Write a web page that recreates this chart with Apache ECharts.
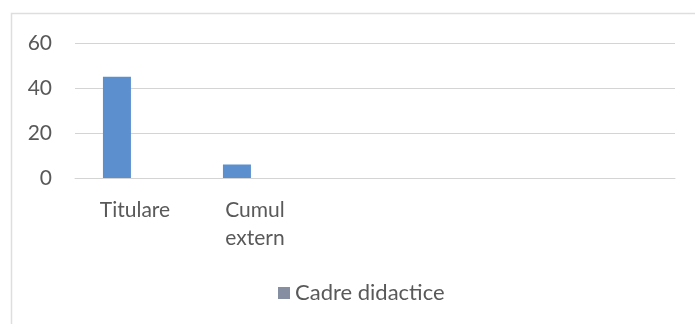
<!DOCTYPE html>
<html>
<head>
<meta charset="utf-8">
<script src="https://cdn.jsdelivr.net/npm/echarts@6/dist/echarts.min.js"></script>
<style>
  html, body { margin: 0; padding: 0; background: #ffffff; }
  #chart { width: 695px; height: 324px; }
</style>
</head>
<body>
<div id="chart"></div>
<script>
// Staff categories and head counts
const categories = ['Titulare', 'Cumul extern', '', '', ''];
const cadreDidactice = [45, 6, null, null, null];
const yTicks = { min: 0, max: 60, interval: 20 };
const seriesName = 'Cadre didactice';

const chart = echarts.init(document.getElementById('chart'), null, { renderer: 'canvas' });

const font = 'Lato, "Open Sans", sans-serif';
const textColor = '#595959';

chart.setOption({
  backgroundColor: '#ffffff',
  animation: false,
  graphic: [{
    type: 'rect',
    shape: { x: 11.5, y: 13.5, width: 700, height: 330 },
    style: { fill: 'none', stroke: '#dedede', lineWidth: 1.5 },
    silent: true
  }],
  grid: { left: 75, right: 20, top: 43, bottom: 146 },
  legend: {
    data: [{ name: seriesName, itemStyle: { color: '#858fa1' } }],
    left: 273,
    top: 277,
    icon: 'rect',
    itemWidth: 12,
    itemHeight: 12,
    itemGap: 4,
    textStyle: { color: textColor, fontFamily: font, fontSize: 22, padding: [0, 0, 0, 0] }
  },
  xAxis: {
    type: 'category',
    data: categories,
    axisLine: { show: true, lineStyle: { color: '#d4d4d4', width: 1 } },
    axisTick: { show: false },
    axisLabel: {
      interval: 0,
      margin: 18,
      color: textColor,
      fontFamily: font,
      fontSize: 21,
      lineHeight: 28,
      formatter: v => v.replace(' ', '\n')
    }
  },
  yAxis: {
    type: 'value',
    min: yTicks.min,
    max: yTicks.max,
    interval: yTicks.interval,
    axisLine: { show: false },
    axisTick: { show: false },
    splitLine: { lineStyle: { color: '#d4d4d4', width: 1 } },
    axisLabel: { color: textColor, fontFamily: font, fontSize: 21, margin: 23 }
  },
  series: [
    {
      name: seriesName,
      type: 'bar',
      data: cadreDidactice,
      barWidth: 28,
      barGap: '29%',
      itemStyle: { color: '#5b8fce' }
    },
    {
      // empty companion column in each cluster
      name: '',
      type: 'bar',
      data: categories.map(() => null),
      barWidth: 28,
      itemStyle: { color: '#5b8fce' }
    }
  ]
});
</script>
</body>
</html>
